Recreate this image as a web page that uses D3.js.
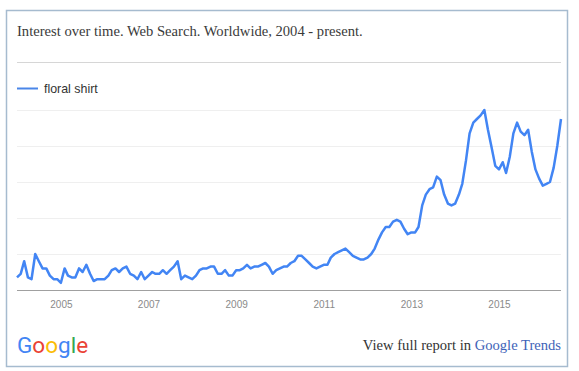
<!DOCTYPE html>
<html lang="en">
<head>
  <meta charset="utf-8" />
  <title>Interest over time</title>
  <style>
    body {
      margin: 0;
      background: #fff;
    }
    svg text {
      font-family: "Liberation Sans", Arial, sans-serif;
    }
  </style>
</head>
<body>
  <div id="graphic"></div>

  <script src="https://cdn.jsdelivr.net/npm/d3@7"></script>
  <script>
    // monthly search interest, Jan 2004 onwards (0-100)
    var seriesName = "floral shirt";
    var firstMonth = "2004-01";
    var interest = [
      7, 9, 16, 7, 6, 20, 16, 12, 12, 8, 6, 6,
      4, 12, 8, 7, 7, 12, 10, 14, 9, 5, 6, 6,
      6, 8, 11, 12, 10, 12, 13, 9, 8, 6, 10, 6,
      8, 10, 9, 9, 11, 9, 11, 13, 16, 6, 8, 7,
      6, 8, 11, 12, 12, 13, 13, 9, 9, 11, 8, 8,
      11, 11, 12, 14, 12, 13, 13, 14, 15, 13, 9, 11,
      12, 13, 13, 15, 16, 19, 19, 17, 15, 13, 12, 13,
      14, 14, 18, 20, 21, 22, 23, 21, 19, 18, 17, 17,
      18, 20, 23, 28, 32, 35, 35, 38, 39, 38, 34, 31,
      32, 32, 35, 47, 53, 56, 57, 63, 61, 53, 48, 47,
      48, 53, 59, 72, 87, 93, 95, 97, 100, 89, 79, 69,
      67, 71, 65, 74, 87, 93, 88, 86, 89, 77, 67, 62,
      58, 59, 60, 68, 80, 95
    ];
    var tickYears = [2005, 2007, 2009, 2011, 2013, 2015];
    var gridValues = [20, 40, 60, 80, 100];

    var width = 579, height = 371;
    var margin = { left: 17, right: 18, top: 110, bottom: 81 };

    var parseMonth = d3.timeParse("%Y-%m");
    var start = parseMonth(firstMonth);
    var points = interest.map(function(v, i) {
      return { date: d3.timeMonth.offset(start, i), value: v };
    });

    var svg = d3.select("#graphic").append("svg")
      .attr("width", width)
      .attr("height", height);

    // frame
    svg.append("rect")
      .attr("x", 6.5).attr("y", 10.5)
      .attr("width", 561).attr("height", 356)
      .attr("fill", "#fff")
      .attr("stroke", "#a6bbcf")
      .attr("stroke-width", 1.5);

    svg.append("text")
      .attr("x", 17).attr("y", 36)
      .style("font-family", "'Liberation Serif', Georgia, serif")
      .style("font-size", "14.6px")
      .attr("fill", "#3a3a3a")
      .text("Interest over time. Web Search. Worldwide, 2004 - present.");

    svg.append("line")
      .attr("x1", 17).attr("x2", 561)
      .attr("y1", 62.5).attr("y2", 62.5)
      .attr("stroke", "#d6d6d6");

    // legend
    svg.append("line")
      .attr("x1", 17).attr("x2", 38)
      .attr("y1", 88.5).attr("y2", 88.5)
      .attr("stroke", "#4a86e8")
      .attr("stroke-width", 2);
    svg.append("text")
      .attr("x", 44).attr("y", 92.5)
      .style("font-size", "12.4px")
      .attr("fill", "#333")
      .text(seriesName);

    var x = d3.scaleTime()
      .domain(d3.extent(points, function(d) { return d.date; }))
      .range([margin.left, width - margin.right]);

    var y = d3.scaleLinear()
      .domain([0, 100])
      .range([height - margin.bottom, margin.top]);

    // gridlines
    svg.append("g")
      .selectAll("line")
      .data(gridValues)
      .enter().append("line")
      .attr("x1", margin.left).attr("x2", width - margin.right)
      .attr("y1", function(d) { return Math.round(y(d)) + 0.5; })
      .attr("y2", function(d) { return Math.round(y(d)) + 0.5; })
      .attr("stroke", "#efefef");

    var xAxis = d3.axisBottom(x)
      .tickValues(tickYears.map(function(yr) { return new Date(yr, 0, 1); }))
      .tickFormat(d3.timeFormat("%Y"))
      .tickSize(0)
      .tickPadding(10);

    var axis = svg.append("g")
      .attr("transform", "translate(0," + (y(0) + 0.5) + ")")
      .call(xAxis);
    axis.select("path.domain")
      .attr("stroke", "#a0a0a0")
      .attr("d", "M" + margin.left + ",0H" + (width - margin.right));
    axis.selectAll("text")
      .style("font-family", "'Liberation Sans', Arial, sans-serif")
      .style("font-size", "10px")
      .attr("fill", "#8a8a8a");

    var line = d3.line()
      .x(function(d) { return x(d.date); })
      .y(function(d) { return y(d.value); });

    svg.append("path")
      .datum(points)
      .attr("d", line)
      .attr("fill", "none")
      .attr("stroke", "#4285f4")
      .attr("stroke-width", 2.5)
      .attr("stroke-linejoin", "round");

    // google logo
    var logo = svg.append("text")
      .attr("x", 17).attr("y", 353)
      .style("font-family", "Roboto, 'Open Sans', sans-serif")
      .style("font-size", "22.5px");
    var logoColours = ["#4285f4", "#ea4335", "#fbbc05", "#4285f4", "#34a853", "#ea4335"];
    "Google".split("").forEach(function(ch, i) {
      logo.append("tspan").attr("fill", logoColours[i]).text(ch);
    });

    var foot = svg.append("text")
      .attr("x", 561).attr("y", 350)
      .attr("text-anchor", "end")
      .style("font-family", "'Liberation Serif', Georgia, serif")
      .style("font-size", "14.6px")
      .attr("fill", "#333");
    foot.append("tspan").text("View full report in ");
    foot.append("tspan").attr("fill", "#3e63b8").text("Google Trends");
  </script>
</body>
</html>
